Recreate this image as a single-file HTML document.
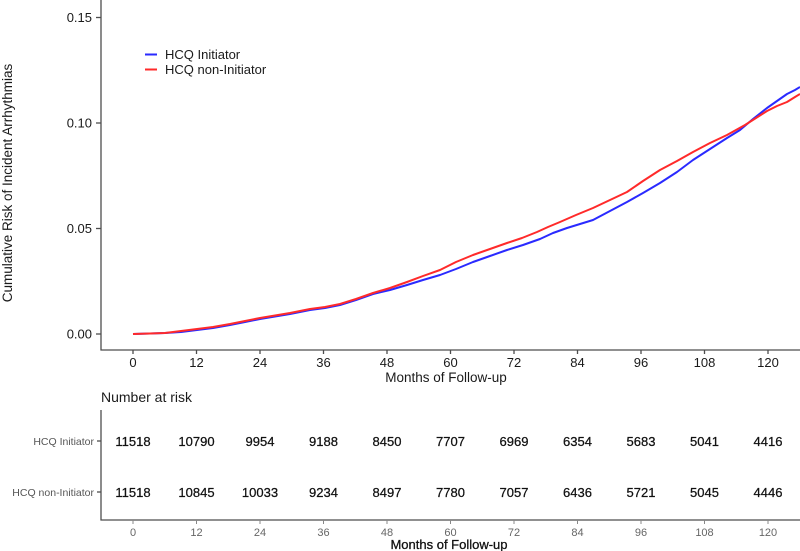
<!DOCTYPE html>
<html><head><meta charset="utf-8"><style>
html,body{margin:0;padding:0;background:#fff;}
svg{display:block;font-family:"Liberation Sans",Arial,sans-serif;}
</style></head><body>
<svg width="800" height="551" viewBox="0 0 800 551" xmlns="http://www.w3.org/2000/svg">
<rect width="800" height="551" fill="#fff"/>
<!-- top plot axes -->
<g stroke="#4d4d4d" stroke-width="1.3" fill="none">
<line x1="101" y1="0" x2="101" y2="350.5"/>
<line x1="100.5" y1="350" x2="800" y2="350"/>
<line x1="96" y1="17.5" x2="101" y2="17.5"/>
<line x1="96" y1="123" x2="101" y2="123"/>
<line x1="96" y1="228.5" x2="101" y2="228.5"/>
<line x1="96" y1="334" x2="101" y2="334"/>
<line x1="133" y1="350" x2="133" y2="354"/>
<line x1="196.5" y1="350" x2="196.5" y2="354"/>
<line x1="260" y1="350" x2="260" y2="354"/>
<line x1="323.5" y1="350" x2="323.5" y2="354"/>
<line x1="387" y1="350" x2="387" y2="354"/>
<line x1="450.5" y1="350" x2="450.5" y2="354"/>
<line x1="514" y1="350" x2="514" y2="354"/>
<line x1="577.5" y1="350" x2="577.5" y2="354"/>
<line x1="641" y1="350" x2="641" y2="354"/>
<line x1="704.5" y1="350" x2="704.5" y2="354"/>
<line x1="768" y1="350" x2="768" y2="354"/>
</g>
<g font-size="13" fill="#1a1a1a" text-anchor="end">
<text x="92" y="22">0.15</text>
<text x="92" y="127.5">0.10</text>
<text x="92" y="233">0.05</text>
<text x="92" y="338.5">0.00</text>
</g>
<g font-size="13" fill="#1a1a1a" text-anchor="middle">
<text x="133" y="367">0</text>
<text x="196.5" y="367">12</text>
<text x="260" y="367">24</text>
<text x="323.5" y="367">36</text>
<text x="387" y="367">48</text>
<text x="450.5" y="367">60</text>
<text x="514" y="367">72</text>
<text x="577.5" y="367">84</text>
<text x="641" y="367">96</text>
<text x="704.5" y="367">108</text>
<text x="768" y="367">120</text>
<text x="446" y="382" font-size="13.5">Months of Follow-up</text>
</g>
<text transform="translate(12,183) rotate(-90)" font-size="13.5" fill="#1a1a1a" text-anchor="middle">Cumulative Risk of Incident Arrhythmias</text>
<!-- curves -->
<polyline fill="none" stroke="#2a2aff" stroke-width="2" stroke-linejoin="round" points="133,334 150,333.5 165,333 181,332 197,330 213,328 230,325 245,322 260,319 275,316.5 290,314 310,310 325,308 340,305 356,300 373,294 390,290 407,285 423,280 440,275 456,269 473,262 490,256 507,250 523,245 540,239 553,233 567,228 580,224 593,220 610,211 627,202 643,193 660,183 677,172 693,160 710,149 727,138 740,130 753,119 767,108 777,101 787,94 795,90 800,87"/>
<polyline fill="none" stroke="#ff2a2a" stroke-width="2" stroke-linejoin="round" points="133,334 150,333.5 165,333 181,331 197,329 213,327 230,324 245,321 260,318 275,315.5 290,313 310,309 325,307 340,304 356,299 373,293 390,288 407,282 423,276 440,270 456,262 473,255 490,249 507,243 522,238 537,232 548,227 560,222 576,215 593,208 610,200 627,192 643,181 660,170 677,161 693,152 710,143 727,135 736,130 745,125 756,118 767,111 777,106 787,102 795,97 800,94"/>
<!-- legend -->
<line x1="145" y1="54.5" x2="157" y2="54.5" stroke="#2a2aff" stroke-width="2"/>
<line x1="145" y1="69.5" x2="157" y2="69.5" stroke="#ff2a2a" stroke-width="2"/>
<text x="165" y="59" font-size="13" fill="#1a1a1a">HCQ Initiator</text>
<text x="165" y="74" font-size="13" fill="#1a1a1a">HCQ non-Initiator</text>
<!-- risk table -->
<text x="101" y="402" font-size="14" fill="#1a1a1a">Number at risk</text>
<g stroke="#4d4d4d" stroke-width="1.3" fill="none">
<line x1="101" y1="410" x2="101" y2="520.5"/>
<line x1="100.5" y1="520" x2="800" y2="520"/>
<line x1="97" y1="441" x2="101" y2="441"/>
<line x1="97" y1="492" x2="101" y2="492"/>
</g>
<g stroke="#888" stroke-width="1" fill="none">
<line x1="133" y1="520" x2="133" y2="524"/>
<line x1="196.5" y1="520" x2="196.5" y2="524"/>
<line x1="260" y1="520" x2="260" y2="524"/>
<line x1="323.5" y1="520" x2="323.5" y2="524"/>
<line x1="387" y1="520" x2="387" y2="524"/>
<line x1="450.5" y1="520" x2="450.5" y2="524"/>
<line x1="514" y1="520" x2="514" y2="524"/>
<line x1="577.5" y1="520" x2="577.5" y2="524"/>
<line x1="641" y1="520" x2="641" y2="524"/>
<line x1="704.5" y1="520" x2="704.5" y2="524"/>
<line x1="768" y1="520" x2="768" y2="524"/>
</g>
<g font-size="10.5" fill="#555" text-anchor="end">
<text x="94" y="445">HCQ Initiator</text>
<text x="94" y="496">HCQ non-Initiator</text>
</g>
<g font-size="13" fill="#111" text-anchor="middle" stroke="#111" stroke-width="0.25">
<text x="133" y="446">11518</text>
<text x="196.5" y="446">10790</text>
<text x="260" y="446">9954</text>
<text x="323.5" y="446">9188</text>
<text x="387" y="446">8450</text>
<text x="450.5" y="446">7707</text>
<text x="514" y="446">6969</text>
<text x="577.5" y="446">6354</text>
<text x="641" y="446">5683</text>
<text x="704.5" y="446">5041</text>
<text x="768" y="446">4416</text>
<text x="133" y="497">11518</text>
<text x="196.5" y="497">10845</text>
<text x="260" y="497">10033</text>
<text x="323.5" y="497">9234</text>
<text x="387" y="497">8497</text>
<text x="450.5" y="497">7780</text>
<text x="514" y="497">7057</text>
<text x="577.5" y="497">6436</text>
<text x="641" y="497">5721</text>
<text x="704.5" y="497">5045</text>
<text x="768" y="497">4446</text>
</g>
<g font-size="11" fill="#666" text-anchor="middle">
<text x="133" y="536">0</text>
<text x="196.5" y="536">12</text>
<text x="260" y="536">24</text>
<text x="323.5" y="536">36</text>
<text x="387" y="536">48</text>
<text x="450.5" y="536">60</text>
<text x="514" y="536">72</text>
<text x="577.5" y="536">84</text>
<text x="641" y="536">96</text>
<text x="704.5" y="536">108</text>
<text x="768" y="536">120</text>
</g>
<text x="449" y="549" font-size="13" fill="#111" text-anchor="middle" stroke="#111" stroke-width="0.3">Months of Follow-up</text>
</svg>
</body></html>
